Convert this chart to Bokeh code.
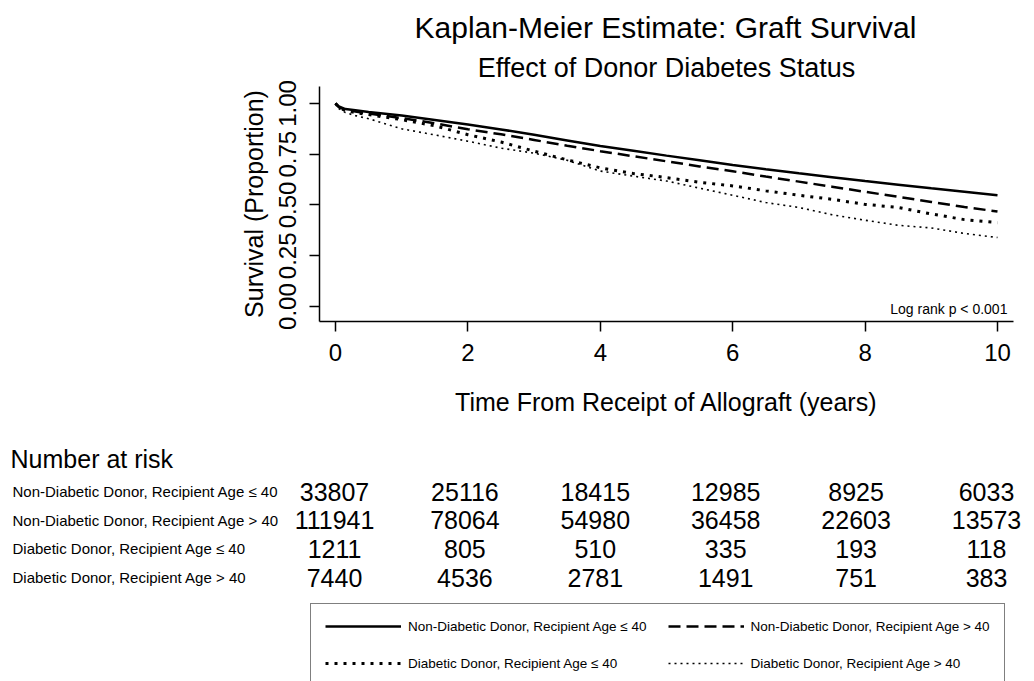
from bokeh.plotting import figure
from bokeh.models import (Range1d, Label, Legend, LegendItem, ColumnDataSource,
                          FixedTicker, NumeralTickFormatter)
from bokeh.layouts import column
from bokeh.embed import file_html
from bokeh.resources import INLINE
from bokeh.core.properties import value

# ---------------- data ----------------
times = [0, 0.05, 0.15, 0.3, 0.5, 1, 1.5, 2, 2.5, 3, 3.5, 4, 4.5, 5, 5.5, 6,
         6.5, 7, 7.5, 8, 8.5, 9, 9.5, 10]
surv_nd_le40 = [1.0, 0.985, 0.972, 0.966, 0.958, 0.94, 0.918, 0.896, 0.872, 0.846,
                0.818, 0.79, 0.767, 0.743, 0.72, 0.697, 0.676, 0.656, 0.637, 0.618,
                0.600, 0.582, 0.565, 0.548]
surv_nd_gt40 = [1.0, 0.982, 0.968, 0.96, 0.95, 0.928, 0.902, 0.873, 0.848, 0.82,
                0.792, 0.765, 0.74, 0.715, 0.69, 0.666, 0.64, 0.615, 0.59, 0.565,
                0.54, 0.515, 0.49, 0.468]
surv_d_le40 = [1.0, 0.98, 0.965, 0.955, 0.945, 0.92, 0.89, 0.846, 0.81, 0.765,
               0.722, 0.683, 0.655, 0.635, 0.612, 0.594, 0.57, 0.548, 0.528, 0.503,
               0.488, 0.456, 0.428, 0.413]
surv_d_gt40 = [1.0, 0.975, 0.955, 0.94, 0.925, 0.875, 0.845, 0.814, 0.78, 0.755,
               0.72, 0.667, 0.642, 0.618, 0.583, 0.548, 0.512, 0.488, 0.452, 0.425,
               0.40, 0.387, 0.36, 0.34]

group_labels = ["Non-Diabetic Donor, Recipient Age \u2264 40",
                "Non-Diabetic Donor, Recipient Age > 40",
                "Diabetic Donor, Recipient Age \u2264 40",
                "Diabetic Donor, Recipient Age > 40"]

risk_times = [0, 2, 4, 6, 8, 10]
risk_nd_le40 = [33807, 25116, 18415, 12985, 8925, 6033]
risk_nd_gt40 = [111941, 78064, 54980, 36458, 22603, 13573]
risk_d_le40 = [1211, 805, 510, 335, 193, 118]
risk_d_gt40 = [7440, 4536, 2781, 1491, 751, 383]

x_ticks = [0, 2, 4, 6, 8, 10]
y_ticks = [0, 0.25, 0.5, 0.75, 1.0]

title_text = "Kaplan-Meier Estimate: Graft Survival"
subtitle_text = "Effect of Donor Diabetes Status"
x_label = "Time From Receipt of Allograft (years)"
y_label = "Survival (Proportion)"
logrank_note = "Log rank p < 0.001"
risk_header = "Number at risk"

# ---------------- styles ----------------
FONT = "Liberation Sans"
styles = [dict(line_width=2.5, line_dash="solid"),
          dict(line_width=2.5, line_dash="12 6"),
          dict(line_width=3, line_dash="3 6"),
          dict(line_width=1.6, line_dash="2 4")]


def no_align(fig):
    if "frame_align" in fig.properties():
        fig.frame_align = False


def blank_fig(h, xr, yr):
    f = figure(width=1034, height=h, output_backend="svg", toolbar_location=None,
               x_range=xr, y_range=yr, min_border=0, min_border_left=0,
               min_border_right=0, min_border_top=0, min_border_bottom=0,
               x_axis_type=None, y_axis_type=None, outline_line_color=None,
               background_fill_color="white", border_fill_color="white")
    f.grid.visible = False
    no_align(f)
    return f


# ---------------- title block ----------------
tf = blank_fig(46, Range1d(0, 1034), Range1d(46, 0))
tf.text(x=[665], y=[27], text=[title_text], text_font=value(FONT),
        text_font_size=value("30px"), text_align="center", text_baseline="middle",
        text_color="black")

# ---------------- main plot ----------------
p = figure(width=1034, height=392, output_backend="svg", toolbar_location=None,
           x_range=Range1d(-0.2417, 10.2417), y_range=Range1d(-0.0735, 1.0833),
           min_border_left=319, min_border_right=21, min_border_top=39,
           min_border_bottom=117, outline_line_color=None,
           background_fill_color="white", border_fill_color="white")
p.grid.visible = False
no_align(p)

p.title.text = subtitle_text
p.title.align = "center"
p.title.text_font = FONT
p.title.text_font_size = "27px"
p.title.text_font_style = "normal"
p.title.text_color = "black"
p.title.standoff = 8

all_surv = [surv_nd_le40, surv_nd_gt40, surv_d_le40, surv_d_gt40]
for surv, st in zip(all_surv, styles):
    src = ColumnDataSource(dict(t=times, s=surv))
    p.line("t", "s", source=src, line_color="black", line_cap="butt", **st)

for ax in (p.xaxis[0], p.yaxis[0]):
    ax.axis_line_color = "black"
    ax.axis_line_width = 1.5
    ax.major_tick_line_color = "black"
    ax.major_tick_line_width = 1.5
    ax.major_tick_out = 10
    ax.major_tick_in = 0
    ax.minor_tick_line_color = None
    ax.major_label_text_font = FONT
    ax.major_label_text_font_size = "24px"
    ax.major_label_text_color = "black"
    ax.axis_label_text_font = FONT
    ax.axis_label_text_font_size = "25px"
    ax.axis_label_text_font_style = "normal"
    ax.axis_label_text_color = "black"

p.xaxis.ticker = FixedTicker(ticks=x_ticks)
p.yaxis.ticker = FixedTicker(ticks=y_ticks)
p.yaxis.formatter = NumeralTickFormatter(format="0.00")
p.yaxis.major_label_orientation = "vertical"
p.xaxis.axis_label = x_label
p.yaxis.axis_label = y_label
p.xaxis.major_label_standoff = 12
p.xaxis.axis_label_standoff = 24
p.yaxis.major_label_standoff = 13
p.yaxis.axis_label_standoff = 9

p.add_layout(Label(x=10.15, y=-0.01, text=logrank_note, text_align="right",
                   text_baseline="middle", text_font=FONT, text_font_size="14px",
                   text_color="black"))

# ---------------- number-at-risk table + legend ----------------
t = blank_fig(243, Range1d(-5.123, 10.736), Range1d(6.627, -1.849))

all_risk = [risk_nd_le40, risk_nd_gt40, risk_d_le40, risk_d_gt40]
rx, ry, rt = [], [], []
for row, counts in enumerate(all_risk):
    for tm, n in zip(risk_times, counts):
        rx.append(tm)
        ry.append(row)
        rt.append(str(n))
t.text(x=rx, y=ry, text=rt, text_font=value(FONT), text_font_size=value("25px"),
       text_align="center", text_baseline="middle", text_color="black")

t.text(x=[-4.939] * 4, y=list(range(4)), text=group_labels, text_font=value(FONT),
       text_font_size=value("15px"), text_align="left", text_baseline="middle",
       text_color="black")
t.text(x=[-4.969], y=[-1.151], text=[risk_header], text_font=value(FONT),
       text_font_size=value("25px"), text_align="left", text_baseline="middle",
       text_color="black")

# legend glyphs: the same curves, on a y-range that keeps them off-frame
t.extra_y_ranges = {"offscreen": Range1d(start=10, end=11)}
items = []
for lab, surv, st in zip(group_labels, all_surv, styles):
    src = ColumnDataSource(dict(t=times, s=surv))
    r = t.line("t", "s", source=src, y_range_name="offscreen", line_color="black",
               line_cap="butt", **st)
    items.append(LegendItem(label=lab, renderers=[r]))
leg = Legend(items=items, location=(310, -5), orientation="horizontal", ncols=2,
             border_line_color="black", border_line_width=1,
             background_fill_color="white", background_fill_alpha=1.0,
             padding=14, spacing=21, margin=0, glyph_width=76, glyph_height=16,
             label_height=16, label_standoff=7, label_text_font=FONT,
             label_text_font_size="13.5px", label_text_color="black")
t.add_layout(leg)

layout = column(tf, p, t)
open("out.html", "w").write(file_html(layout, INLINE))
